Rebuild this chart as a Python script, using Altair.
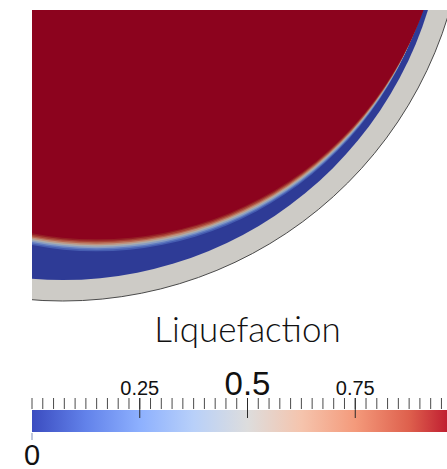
import math
import altair as alt
import pandas as pd

# ---------------- data (model units: outer shell radius = 1) ----------------
# outer shell (grey, not part of the colour map)
shell_cx = [0.0]
shell_cy = [0.0]
shell_r = [1.0]

# liquefaction bands, painted from outside to inside
band_value = [0.0, 0.1, 0.2, 0.35, 0.5, 0.65, 0.8, 0.9, 0.97, 1.0]
band_cx = [0.0, 0.0841, 0.0841, 0.0841, 0.0841, 0.0841, 0.0841, 0.0841, 0.0841, 0.0841]
band_cy = [0.0, -0.0340, -0.0278, -0.0216, -0.0154, -0.0092, -0.0030, 0.0032, 0.0094, 0.0156]
band_r = [0.948, 0.8426, 0.8450, 0.8474, 0.8498, 0.8523, 0.8548, 0.8574, 0.8600, 0.8626]
band_order = [0, 1, 2, 3, 4, 5, 6, 7, 8, 9]

# view window of the field (model units)
x_window = [-0.0762, 0.9536]
y_window = [-1.4169, -0.2779]

# colour map (Cool to Warm)
cmap_pos = [0.0, 0.125, 0.25, 0.375, 0.5, 0.625, 0.75, 0.875, 1.0]
cmap_hex = ["#3b4cc0", "#6282ea", "#8db0fe", "#b8d0f9", "#dddddd",
            "#f5c4ad", "#f49a7b", "#de604d", "#b40426"]

# colour bar ticks / labels
minor_ticks = [i / 40 for i in range(41)]
major_ticks = [0.25, 0.5, 0.75]
small_label_values = [0.25, 0.75]
small_label_text = ["0.25", "0.75"]
big_label_values = [0.5]
big_label_text = ["0.5"]
end_label_values = [0.0]
end_label_text = ["0"]
title_text = "Liquefaction"

# ---------------- layout / style ----------------
W, H = 415, 459
PAD = {"left": 32, "top": 10, "right": 0, "bottom": 0}
PX_PER_UNIT = W / (x_window[1] - x_window[0])
CB_LEN = 431
SHADE = 0.78
GRAY = "#cdcbc6"
TXT = "#111111"


def shade(h, f):
    r, g, b = int(h[1:3], 16), int(h[3:5], 16), int(h[5:7], 16)
    return "#%02x%02x%02x" % (round(r * f), round(g * f), round(b * f))


field_hex = [shade(h, SHADE) for h in cmap_hex]

xs = alt.Scale(domain=x_window, nice=False, zero=False)
ys = alt.Scale(domain=y_window, nice=False, zero=False)
rs = alt.Scale(type="linear", domain=[0, 1], range=[0, PX_PER_UNIT], zero=True)

shell_df = pd.DataFrame({"cx": shell_cx, "cy": shell_cy, "r": shell_r})
band_df = pd.DataFrame({"cx": band_cx, "cy": band_cy, "r": band_r,
                        "value": band_value, "order": band_order})

shell = alt.Chart(shell_df).mark_arc(
    theta=0, theta2=2 * math.pi, color=GRAY, stroke="#4a4a4a", strokeWidth=1, clip=True
).encode(
    x=alt.X("cx:Q", scale=xs, axis=None),
    y=alt.Y("cy:Q", scale=ys, axis=None),
    radius=alt.Radius("r:Q", scale=rs, stack=False),
)

bands = alt.Chart(band_df).mark_arc(
    theta=0, theta2=2 * math.pi, clip=True
).encode(
    x=alt.X("cx:Q", scale=xs, axis=None),
    y=alt.Y("cy:Q", scale=ys, axis=None),
    radius=alt.Radius("r:Q", scale=rs, stack=False),
    color=alt.Color("value:Q", scale=alt.Scale(domain=cmap_pos, range=field_hex), legend=None),
    order=alt.Order("order:Q"),
)

field = alt.layer(shell, bands)

# ---------------- colour bar ----------------
cbs = alt.Scale(domain=[0, 1], range=[0, CB_LEN], nice=False, zero=False)
grad = alt.LinearGradient(
    gradient="linear", x1=0, x2=1, y1=0, y2=0,
    stops=[alt.GradientStop(color=c, offset=o) for o, c in zip(cmap_pos, cmap_hex)],
)
bar = alt.Chart(pd.DataFrame({"lo": [0.0], "hi": [1.0]})).mark_rect(color=grad).encode(
    x=alt.X("lo:Q", scale=cbs, axis=None), x2="hi:Q",
    y=alt.value(400), y2=alt.value(422),
)
minor = alt.Chart(pd.DataFrame({"v": minor_ticks})).mark_rule(color="#4a4a4a", strokeWidth=1).encode(
    x=alt.X("v:Q", scale=cbs, axis=None), y=alt.value(388), y2=alt.value(399),
)
major = alt.Chart(pd.DataFrame({"v": major_ticks})).mark_rule(color="#2a2a2a", strokeWidth=1).encode(
    x=alt.X("v:Q", scale=cbs, axis=None), y=alt.value(388), y2=alt.value(408),
)
zero_tick = alt.Chart(pd.DataFrame({"v": end_label_values})).mark_rule(color="#8090b8", strokeWidth=1).encode(
    x=alt.X("v:Q", scale=cbs, axis=None), y=alt.value(423), y2=alt.value(430),
)
small_lab = alt.Chart(pd.DataFrame({"v": small_label_values, "t": small_label_text})).mark_text(
    font="Liberation Sans", fontSize=20, color=TXT, align="center", baseline="alphabetic"
).encode(x=alt.X("v:Q", scale=cbs, axis=None), y=alt.value(385), text="t:N")
big_lab = alt.Chart(pd.DataFrame({"v": big_label_values, "t": big_label_text})).mark_text(
    font="Liberation Sans", fontSize=33, color=TXT, align="center", baseline="alphabetic"
).encode(x=alt.X("v:Q", scale=cbs, axis=None), y=alt.value(385), text="t:N")
end_lab = alt.Chart(pd.DataFrame({"v": end_label_values, "t": end_label_text})).mark_text(
    font="Liberation Sans", fontSize=29, color=TXT, align="center", baseline="alphabetic"
).encode(x=alt.X("v:Q", scale=cbs, axis=None), y=alt.value(455), text="t:N")
title = alt.Chart(pd.DataFrame({"v": [0.5], "t": [title_text]})).mark_text(
    font="Lato", fontSize=35, fontWeight=300, color=TXT, align="center", baseline="alphabetic"
).encode(x=alt.X("v:Q", scale=cbs, axis=None), y=alt.value(332), text="t:N")

cbar = alt.layer(bar, minor, major, zero_tick, small_lab, big_lab, end_lab, title)

chart = alt.layer(field, cbar).resolve_scale(
    x="independent", y="independent", color="independent"
).properties(
    width=W, height=H, padding=PAD, autosize=alt.AutoSizeParams(type="none"),
    background="white",
).configure_view(stroke=None)

chart.save("out.html", embed_options={"renderer": "svg", "actions": False})
